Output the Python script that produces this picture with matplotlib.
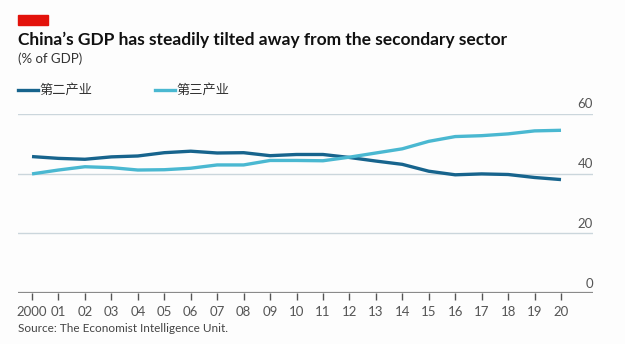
import numpy as np
import matplotlib
matplotlib.use("Agg")
import matplotlib.pyplot as plt
from matplotlib.patches import Rectangle
import matplotlib.transforms as mtransforms

plt.rcParams["font.family"] = ["Lato", "Noto Sans CJK SC", "DejaVu Sans"]

years = list(range(2000, 2021))
year_labels = ["2000"] + ["%02d" % (y % 100) for y in years[1:]]
secondary = [45.7, 45.1, 44.8, 45.6, 45.9, 47.0, 47.5, 46.9, 47.0, 46.0, 46.4,
             46.4, 45.4, 44.2, 43.1, 40.8, 39.6, 39.9, 39.7, 38.7, 38.0]
tertiary = [39.9, 41.2, 42.3, 42.0, 41.2, 41.3, 41.8, 42.9, 42.9, 44.4, 44.4,
            44.3, 45.5, 46.9, 48.3, 50.8, 52.4, 52.7, 53.3, 54.3, 54.5]
y_ticks = [0, 20, 40, 60]
names = ["第二产业", "第三产业"]

dark = "#17648d"
light = "#4ab8d1"

fig = plt.figure(figsize=(6.25, 3.44), dpi=100)
fig.patch.set_facecolor("#fdfdfd")
ax = fig.add_axes([0.0288, 0.148, 0.92, 0.521])
ax.set_facecolor("#fdfdfd")

ax.plot(years, secondary, color=dark, lw=2.4, solid_capstyle="butt")
ax.plot(years, tertiary, color=light, lw=2.4, solid_capstyle="butt")

ax.set_xlim(1999.47, 2021.21)
ax.set_ylim(0, 60)
for s in ax.spines.values():
    s.set_visible(False)
ax.set_yticks([])
for t in y_ticks[1:]:
    ax.axhline(t, color="#cbd6dc", lw=1, zorder=0)
ax.axhline(0, color="#8a8a8a", lw=1.6, zorder=3)

trans = mtransforms.blended_transform_factory(ax.transAxes, ax.transData)
for t in y_ticks:
    ax.text(1.0, t + 1.2, str(t), transform=trans, ha="right", va="bottom",
            fontsize=9.5, color="#555555")

ax.set_xticks(years)
ax.set_xticklabels(year_labels, fontsize=9.5, color="#555555")
ax.tick_params(axis="x", direction="out", length=5, width=1, color="#555555", pad=4)

# header
fig.patches.append(Rectangle((18 / 625, 1 - 25 / 344), 30 / 625, 10 / 344,
                             transform=fig.transFigure, color="#e3120b"))
fig.text(18 / 625, 1 - 40 / 344, "China’s GDP has steadily tilted away from the secondary sector",
         fontsize=12.5, fontweight="bold", va="center", color="#111111")
fig.text(18 / 625, 1 - 59 / 344, "(% of GDP)", fontsize=9.5, va="center", color="#333333")

# legend
for i, (name, col) in enumerate(zip(names, [dark, light])):
    x0 = [18, 155][i] / 625
    fig.add_artist(plt.Line2D([x0, x0 + 20 / 625], [1 - 90 / 344] * 2, color=col, lw=2.4))
    fig.text(x0 + 21 / 625, 1 - 90 / 344, name, fontsize=9.5, va="center", color="#333333",
             family=["Noto Sans CJK SC", "DejaVu Sans"])

fig.text(18 / 625, 1 - 329 / 344, "Source: The Economist Intelligence Unit.",
         fontsize=8.5, va="center", color="#444444")

fig.savefig("out.png", dpi=100, facecolor=fig.get_facecolor())
